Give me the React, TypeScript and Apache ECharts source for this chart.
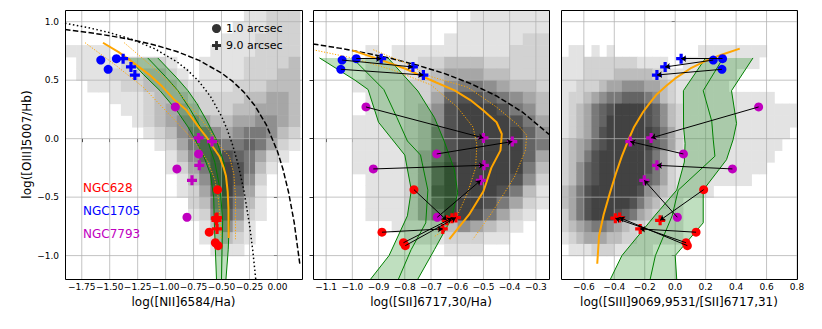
import React, { useEffect, useRef } from 'react';
import * as echarts from 'echarts';

const FONT = 'DejaVu Sans';
const MINUS = '\u2212';

// ---------- axes ----------
const p1XRange = [-1.9, 0.22];
const p2XRange = [-1.15, -0.25];
const p3XRange = [-0.75, 0.8];
const yRange = [-1.2, 1.1];
const p1XTicks = [-1.75, -1.5, -1.25, -1.0, -0.75, -0.5, -0.25, 0.0];
const p2XTicks = [-1.1, -1.0, -0.9, -0.8, -0.7, -0.6, -0.5, -0.4, -0.3];
const p3XTicks = [-0.6, -0.4, -0.2, 0.0, 0.2, 0.4, 0.6, 0.8];
const yTicks = [-1.0, -0.5, 0.0, 0.5, 1.0];
const p1XName = 'log([NII]6584/Ha)';
const p2XName = 'log([SII]6717,30/Ha)';
const p3XName = 'log([SIII]9069,9531/[SII]6717,31)';
const yName = 'log([OIII]5007/Hb)';

// ---------- 2D histograms (grey level per bin, '.' = empty; top row first) ----------
const hist1Bins = { x0: -1.9, dx: 0.1, y0: 1.1, dy: 0.1 };
const hist1Rows = [
  '................11222',
  '...............111222',
  '..............1112222',
  '1111.........11112222',
  '.111122221..111122223',
  '.1112223321.111122233',
  '..1112233321111222333',
  '....11123332222233443',
  '.....1123443222334443',
  '......123455433445543',
  '.......12356654566532',
  '........1246776676421',
  '.........13578876421.',
  '.........1246898631..',
  '..........13589852...',
  '..........12479741...',
  '...........2368631...',
  '...........1257521...',
  '............13531....',
  '............12321....',
  '.............111.....',
  '.....................',
  '.....................',
];
const hist2Bins = { x0: -1.15, dx: 0.05, y0: 1.1, dy: 0.1 };
const hist2Rows = [
  '............111111',
  '...........1111111',
  '..........11111122',
  '....1.111111111222',
  '....11112233322222',
  '....11112344433222',
  '...111122356654332',
  '....11122478876543',
  '....11123589998653',
  '...111123589999864',
  '...111123689999975',
  '...111123689999976',
  '...111124689999974',
  '...111124799999963',
  '....11124799999852',
  '....11124899998631',
  '....11124799986421',
  '....1112469986421.',
  '......1112354321..',
  '.......11122211...',
  '..........111.....',
  '..................',
  '..................',
];
const hist3Bins = { x0: -0.75, dx: 0.05, y0: 1.1, dy: 0.1 };
const hist3Rows = [
  '...............................',
  '...............................',
  '...............................',
  '.11.1.1...........111111111....',
  '11122222221111..1111111111.....',
  '11122223333322111111111........',
  '1122234455544321111111.........',
  '1223456677765321111111111111...',
  '1234678999987532111111111111111',
  '1234679999987532111111111111111',
  '123468999999864211111111111111.',
  '23457899999976421111111111111..',
  '2346899999986421111111111111...',
  '235789999998642111111111111....',
  '2357899999976421111111111......',
  '34689999998543211111...........',
  '3468999998643211...............',
  '2468999876432111...............',
  '2345665432211111...............',
  '1234443322111111...............',
  '.11122211111....................',
  '...............................',
  '...............................',
];

// ---------- curves ----------
const p1Kewley = [[-1.9, 0.933], [-1.7, 0.909], [-1.5, 0.88], [-1.3, 0.845], [-1.1, 0.801], [-0.9, 0.745], [-0.7, 0.669], [-0.5, 0.561], [-0.4, 0.489], [-0.3, 0.398], [-0.2, 0.28], [-0.1, 0.12], [0.0, -0.108], [0.05, -0.262], [0.1, -0.459], [0.15, -0.716], [0.2, -1.069]];
const p1Kauffmann = [[-1.9, 0.987], [-1.7, 0.951], [-1.5, 0.906], [-1.3, 0.848], [-1.1, 0.77], [-0.9, 0.658], [-0.8, 0.582], [-0.7, 0.487], [-0.6, 0.362], [-0.5, 0.191], [-0.45, 0.08], [-0.4, -0.056], [-0.35, -0.225], [-0.3, -0.443], [-0.25, -0.733], [-0.22, -0.959], [-0.194, -1.2]];
const p2Kewley = [[-1.15, 0.81], [-1.05, 0.774], [-0.95, 0.733], [-0.85, 0.685], [-0.75, 0.627], [-0.65, 0.558], [-0.55, 0.472], [-0.45, 0.365], [-0.35, 0.225], [-0.25, 0.037]];

const p1Orange = [[-1.56, 0.82], [-1.42, 0.74], [-1.29, 0.65], [-1.15, 0.55], [-1.03, 0.445], [-0.92, 0.33], [-0.82, 0.25], [-0.72, 0.12], [-0.64, 0.02], [-0.57, -0.08], [-0.52, -0.15], [-0.48, -0.25], [-0.46, -0.32], [-0.445, -0.45], [-0.438, -0.6], [-0.436, -0.85]];
const p1OrangeLo = [[-1.72, 0.82], [-1.45, 0.63], [-1.2, 0.44], [-1.0, 0.24], [-0.84, 0.08], [-0.72, -0.05], [-0.62, -0.2], [-0.56, -0.35], [-0.53, -0.5], [-0.51, -0.7], [-0.505, -0.86]];
const p1OrangeHi = [[-1.37, 0.82], [-1.15, 0.64], [-0.95, 0.47], [-0.8, 0.3], [-0.67, 0.15], [-0.57, 0.02], [-0.5, -0.08], [-0.43, -0.15], [-0.39, -0.3], [-0.375, -0.5], [-0.375, -0.7], [-0.375, -0.86]];
const p2Orange = [[-1.0, 0.755], [-0.9, 0.68], [-0.8, 0.6], [-0.74, 0.54], [-0.68, 0.48], [-0.61, 0.413], [-0.55, 0.33], [-0.5, 0.24], [-0.45, 0.14], [-0.43, 0.04], [-0.435, -0.1], [-0.47, -0.25], [-0.5, -0.45], [-0.555, -0.65], [-0.63, -0.86]];
const p2OrangeLo = [[-1.15, 0.76], [-1.0, 0.69], [-0.85, 0.59], [-0.7, 0.46], [-0.6, 0.27], [-0.54, 0.1], [-0.525, -0.05], [-0.53, -0.25], [-0.56, -0.46], [-0.6, -0.66], [-0.66, -0.8], [-0.69, -0.84]];
const p2OrangeHi = [[-0.92, 0.76], [-0.8, 0.65], [-0.7, 0.53], [-0.56, 0.44], [-0.45, 0.27], [-0.37, 0.12], [-0.335, 0.03], [-0.34, -0.1], [-0.38, -0.32], [-0.43, -0.5], [-0.47, -0.64], [-0.54, -0.86]];
const p3Orange = [[0.424, 0.77], [0.3, 0.715], [0.2, 0.665], [0.1, 0.6], [0.0, 0.515], [-0.06, 0.45], [-0.12, 0.38], [-0.17, 0.3], [-0.21, 0.23], [-0.27, 0.1], [-0.31, -0.02], [-0.35, -0.15], [-0.39, -0.3], [-0.43, -0.47], [-0.47, -0.65], [-0.5, -0.83], [-0.512, -1.07]];

// model bands: left edge, middle, right edge
const p1BandLeft = [[-1.335, 0.69], [-1.2, 0.55], [-1.05, 0.41], [-0.9, 0.24], [-0.8, 0.1], [-0.74, 0.0], [-0.66, -0.15], [-0.6, -0.3], [-0.57, -0.5], [-0.565, -0.7], [-0.555, -0.95], [-0.545, -1.2]];
const p1BandMid = [[-1.16, 0.69], [-1.0, 0.53], [-0.89, 0.41], [-0.78, 0.25], [-0.69, 0.1], [-0.63, 0.0], [-0.56, -0.2], [-0.51, -0.45], [-0.49, -0.7], [-0.495, -0.95], [-0.5, -1.2]];
const p1BandRight = [[-1.07, 0.69], [-0.9, 0.52], [-0.8, 0.41], [-0.72, 0.3], [-0.63, 0.15], [-0.55, 0.0], [-0.48, -0.2], [-0.44, -0.45], [-0.43, -0.7], [-0.44, -0.95], [-0.46, -1.2]];
const p2BandLeft = [[-1.125, 0.69], [-0.99, 0.5], [-0.94, 0.42], [-0.9, 0.14], [-0.85, 0.0], [-0.8, -0.14], [-0.775, -0.44], [-0.79, -0.66], [-0.86, -1.0], [-0.93, -1.2]];
const p2BandMid = [[-1.0, 0.69], [-0.88, 0.42], [-0.83, 0.18], [-0.79, -0.02], [-0.74, -0.14], [-0.712, -0.44], [-0.72, -0.72], [-0.776, -0.95], [-0.824, -1.2]];
const p2BandRight = [[-0.864, 0.69], [-0.75, 0.407], [-0.687, 0.18], [-0.65, -0.02], [-0.611, -0.265], [-0.598, -0.464], [-0.624, -0.692], [-0.687, -0.949], [-0.75, -1.2]];
const p3BandLeft = [[0.2, 0.69], [0.054, 0.41], [0.055, 0.1], [0.065, -0.04], [0.06, -0.2], [0.01, -0.44], [-0.135, -0.66], [-0.35, -1.0], [-0.425, -1.2]];
const p3BandMid = [[0.315, 0.69], [0.184, 0.41], [0.24, 0.15], [0.25, -0.01], [0.261, -0.15], [0.02, -0.44], [-0.02, -0.66], [-0.13, -1.0], [-0.164, -1.2]];
const p3BandRight = [[0.511, 0.69], [0.37, 0.41], [0.403, 0.13], [0.38, -0.01], [0.337, -0.18], [0.184, -0.44], [0.184, -0.72], [0.0, -1.0], [0.01, -1.2]];

// ---------- observed points: 1.0 arcsec (circles) and 9.0 arcsec (pluses) ----------
const ngc628_y1 = [-0.436, -0.8, -0.89, -0.915];
const ngc628_y9 = [-0.698, -0.772, -0.68, -0.675];
const ngc628_nii1 = [-0.535, -0.61, -0.555, -0.53];
const ngc628_nii9 = [-0.545, -0.54, -0.55, -0.54];
const ngc628_sii1 = [-0.765, -0.887, -0.805, -0.798];
const ngc628_sii9 = [-0.64, -0.655, -0.62, -0.605];
const ngc628_siii1 = [0.187, 0.137, 0.071, 0.08];
const ngc628_siii9 = [-0.099, -0.23, -0.393, -0.365];

const ngc1705_y1 = [0.684, 0.672, 0.593];
const ngc1705_y9 = [0.684, 0.613, 0.544];
const ngc1705_nii1 = [-1.44, -1.58, -1.514];
const ngc1705_nii9 = [-1.38, -1.31, -1.275];
const ngc1705_sii1 = [-0.985, -1.039, -1.044];
const ngc1705_sii9 = [-0.89, -0.769, -0.729];
const ngc1705_siii1 = [0.311, 0.25, 0.307];
const ngc1705_siii9 = [0.039, -0.066, -0.12];

const ngc7793_y1 = [0.271, -0.131, -0.259, -0.672];
const ngc7793_y9 = [0.006, -0.025, -0.228, -0.356];
const ngc7793_nii1 = [-0.913, -0.705, -0.899, -0.809];
const ngc7793_nii9 = [-0.705, -0.585, -0.699, -0.764];
const ngc7793_sii1 = [-0.948, -0.678, -0.92, -0.676];
const ngc7793_sii9 = [-0.5, -0.39, -0.498, -0.51];
const ngc7793_siii1 = [0.548, 0.054, 0.376, 0.014];
const ngc7793_siii9 = [-0.158, -0.295, -0.12, -0.203];

const galaxyNames = ['NGC628', 'NGC1705', 'NGC7793'];
const legendNames = ['1.0 arcsec', '9.0 arcsec'];

// ---------- styling ----------
const RED = '#ff0000';
const BLUE = '#0000ff';
const MAG = '#bf00bf';
const ORANGE = '#ffa500';
const GREEN = '#008000';
const GRAYS = ['', '#e3e3e3', '#d2d2d2', '#bdbdbd', '#a6a6a6', '#8f8f8f', '#797979', '#646464', '#525252', '#424242'];
const PLUS = 'path://M3.4,0H6.6V3.4H10V6.6H6.6V10H3.4V6.6H0V3.4H3.4Z';
const GRIDS = [
  { left: 65, top: 10, width: 237, height: 269 },
  { left: 313, top: 10, width: 236, height: 269 },
  { left: 561, top: 10, width: 236, height: 269 },
];

const fmt = (v: number, dec: number) => (v < -1e-9 ? MINUS : '') + Math.abs(v).toFixed(dec);

function histData(rows: string[], b: any) {
  const out: number[][] = [];
  rows.forEach((row, j) => {
    for (let i = 0; i < row.length; i++) {
      const c = row[i];
      if (c !== '.') out.push([b.x0 + (i + 0.5) * b.dx, b.y0 - (j + 0.5) * b.dy, Number(c)]);
    }
  });
  return out;
}

function histSeries(idx: number, rows: string[], b: any) {
  return {
    type: 'custom', xAxisIndex: idx, yAxisIndex: idx, z: 1, silent: true,
    data: histData(rows, b),
    encode: { x: 0, y: 1 },
    renderItem: (params: any, api: any) => {
      const x = api.value(0), y = api.value(1), lv = api.value(2);
      const p1 = api.coord([x - b.dx / 2, y + b.dy / 2]);
      const p2 = api.coord([x + b.dx / 2, y - b.dy / 2]);
      const cs = params.coordSys;
      const rect = echarts.graphic.clipRectByRect(
        { x: p1[0], y: p1[1], width: p2[0] - p1[0] + 0.6, height: p2[1] - p1[1] + 0.6 },
        { x: cs.x, y: cs.y, width: cs.width, height: cs.height }
      );
      if (!rect) return null;
      return { type: 'rect', shape: rect, style: { fill: GRAYS[lv] } };
    },
  };
}

function gridSeries(idx: number, xTicks: number[], xMin: number) {
  const data = xTicks.map((v) => [v, 0, 0]).concat(yTicks.map((v) => [xMin, v, 1]));
  return {
    type: 'custom', xAxisIndex: idx, yAxisIndex: idx, z: 2, silent: true,
    data, encode: { x: 0, y: 1 },
    renderItem: (params: any, api: any) => {
      const cs = params.coordSys;
      const p = api.coord([api.value(0), api.value(1)]);
      const style = { stroke: '#b0b0b0', opacity: 0.75, lineWidth: 1 };
      if (api.value(2) === 0) {
        return { type: 'line', shape: { x1: p[0], y1: cs.y, x2: p[0], y2: cs.y + cs.height }, style };
      }
      return { type: 'line', shape: { x1: cs.x, y1: p[1], x2: cs.x + cs.width, y2: p[1] }, style };
    },
  };
}

function bandSeries(idx: number, left: number[][], right: number[][]) {
  return {
    type: 'custom', xAxisIndex: idx, yAxisIndex: idx, z: 3, silent: true,
    data: [left[0]], encode: { x: 0, y: 1 },
    renderItem: (_params: any, api: any) => {
      const pts = left.concat(right.slice().reverse()).map((p) => api.coord(p));
      return { type: 'polygon', shape: { points: pts }, style: { fill: 'rgba(0,128,0,0.25)' } };
    },
  };
}

function lineSeries(idx: number, data: number[][], color: string, width: number, type: any, z = 4) {
  return {
    type: 'line', xAxisIndex: idx, yAxisIndex: idx, data, z, silent: true,
    showSymbol: false, symbol: 'none', clip: true,
    lineStyle: { color, width, type },
  };
}

function scatterSeries(idx: number, xs: number[], ys: number[], color: string, symbol: string, size: number) {
  return {
    type: 'scatter', xAxisIndex: idx, yAxisIndex: idx, z: 5, silent: true,
    data: xs.map((x, k) => [x, ys[k]]), symbol, symbolSize: size,
    itemStyle: { color, opacity: 1 },
  };
}

function arrowSeries(idx: number, x1: number[], y1: number[], x9: number[], y9: number[]) {
  return {
    type: 'lines', coordinateSystem: 'cartesian2d', xAxisIndex: idx, yAxisIndex: idx, z: 6, silent: true,
    symbol: ['none', 'arrow'], symbolSize: 5,
    lineStyle: { color: '#000', width: 1, opacity: 1 },
    data: x1.map((x, k) => ({ coords: [[x, y1[k]], [x9[k], y9[k]]] })),
  };
}

function xAxisFor(i: number, range: number[], ticks: number[], dec: number, name: string) {
  return {
    type: 'value', gridIndex: i, min: range[0], max: range[1],
    name, nameLocation: 'middle', nameGap: 13,
    nameTextStyle: { fontSize: 12, fontFamily: FONT, color: '#000' },
    axisLine: { show: false },
    axisTick: { show: true, customValues: ticks, length: 3.5, lineStyle: { color: '#000', width: 0.8 } },
    axisLabel: { show: true, customValues: ticks, formatter: (v: number) => fmt(v, dec), fontSize: 9, fontFamily: FONT, color: '#000', margin: 3 },
    splitLine: { show: false },
  };
}

function yAxisFor(i: number, labels: boolean) {
  return {
    type: 'value', gridIndex: i, min: yRange[0], max: yRange[1],
    name: labels ? yName : '', nameLocation: 'middle', nameGap: 28, nameRotate: 90,
    nameTextStyle: { fontSize: 12, fontFamily: FONT, color: '#000' },
    axisLine: { show: false },
    axisTick: { show: true, customValues: yTicks, length: 3.5, lineStyle: { color: '#000', width: 0.8 } },
    axisLabel: { show: labels, customValues: yTicks, formatter: (v: number) => fmt(v, 1), fontSize: 9, fontFamily: FONT, color: '#000', margin: 6 },
    splitLine: { show: false },
  };
}

export default function App() {
  const ref = useRef<HTMLDivElement>(null);
  useEffect(() => {
    if (!ref.current) return;
    const chart = echarts.init(ref.current, undefined, { renderer: 'svg' });
    const series: any[] = [
      histSeries(0, hist1Rows, hist1Bins),
      histSeries(1, hist2Rows, hist2Bins),
      histSeries(2, hist3Rows, hist3Bins),
      gridSeries(0, p1XTicks, p1XRange[0]),
      gridSeries(1, p2XTicks, p2XRange[0]),
      gridSeries(2, p3XTicks, p3XRange[0]),
      bandSeries(0, p1BandLeft, p1BandRight),
      bandSeries(1, p2BandLeft, p2BandRight),
      bandSeries(2, p3BandLeft, p3BandRight),
      lineSeries(0, p1BandLeft, GREEN, 1, 'solid'),
      lineSeries(0, p1BandMid, GREEN, 1, 'solid'),
      lineSeries(0, p1BandRight, GREEN, 1, 'solid'),
      lineSeries(1, p2BandLeft, GREEN, 1, 'solid'),
      lineSeries(1, p2BandMid, GREEN, 1, 'solid'),
      lineSeries(1, p2BandRight, GREEN, 1, 'solid'),
      lineSeries(2, p3BandLeft, GREEN, 1, 'solid'),
      lineSeries(2, p3BandMid, GREEN, 1, 'solid'),
      lineSeries(2, p3BandRight, GREEN, 1, 'solid'),
      lineSeries(0, p1Kewley, '#000', 1.5, [5.5, 2.4]),
      lineSeries(0, p1Kauffmann, '#000', 1.5, [1.5, 2.5]),
      lineSeries(1, p2Kewley, '#000', 1.5, [5.5, 2.4]),
      lineSeries(0, p1Orange, ORANGE, 2, 'solid'),
      lineSeries(0, p1OrangeLo, ORANGE, 1, [1.2, 1.6]),
      lineSeries(0, p1OrangeHi, ORANGE, 1, [1.2, 1.6]),
      lineSeries(1, p2Orange, ORANGE, 2, 'solid'),
      lineSeries(1, p2OrangeLo, ORANGE, 1, [1.2, 1.6]),
      lineSeries(1, p2OrangeHi, ORANGE, 1, [1.2, 1.6]),
      lineSeries(2, p3Orange, ORANGE, 2, 'solid'),
      // panel 1
      scatterSeries(0, ngc628_nii1, ngc628_y1, RED, 'circle', 9),
      scatterSeries(0, ngc628_nii9, ngc628_y9, RED, PLUS, 10),
      scatterSeries(0, ngc1705_nii1, ngc1705_y1, BLUE, 'circle', 9),
      scatterSeries(0, ngc1705_nii9, ngc1705_y9, BLUE, PLUS, 10),
      scatterSeries(0, ngc7793_nii1, ngc7793_y1, MAG, 'circle', 9),
      scatterSeries(0, ngc7793_nii9, ngc7793_y9, MAG, PLUS, 10),
      // panel 2
      scatterSeries(1, ngc628_sii1, ngc628_y1, RED, 'circle', 9),
      scatterSeries(1, ngc628_sii9, ngc628_y9, RED, PLUS, 10),
      scatterSeries(1, ngc1705_sii1, ngc1705_y1, BLUE, 'circle', 9),
      scatterSeries(1, ngc1705_sii9, ngc1705_y9, BLUE, PLUS, 10),
      scatterSeries(1, ngc7793_sii1, ngc7793_y1, MAG, 'circle', 9),
      scatterSeries(1, ngc7793_sii9, ngc7793_y9, MAG, PLUS, 10),
      arrowSeries(1, ngc628_sii1, ngc628_y1, ngc628_sii9, ngc628_y9),
      arrowSeries(1, ngc1705_sii1, ngc1705_y1, ngc1705_sii9, ngc1705_y9),
      arrowSeries(1, ngc7793_sii1, ngc7793_y1, ngc7793_sii9, ngc7793_y9),
      // panel 3
      scatterSeries(2, ngc628_siii1, ngc628_y1, RED, 'circle', 9),
      scatterSeries(2, ngc628_siii9, ngc628_y9, RED, PLUS, 10),
      scatterSeries(2, ngc1705_siii1, ngc1705_y1, BLUE, 'circle', 9),
      scatterSeries(2, ngc1705_siii9, ngc1705_y9, BLUE, PLUS, 10),
      scatterSeries(2, ngc7793_siii1, ngc7793_y1, MAG, 'circle', 9),
      scatterSeries(2, ngc7793_siii9, ngc7793_y9, MAG, PLUS, 10),
      arrowSeries(2, ngc628_siii1, ngc628_y1, ngc628_siii9, ngc628_y9),
      arrowSeries(2, ngc1705_siii1, ngc1705_y1, ngc1705_siii9, ngc1705_y9),
      arrowSeries(2, ngc7793_siii1, ngc7793_y1, ngc7793_siii9, ngc7793_y9),
      // legend entries
      { type: 'scatter', name: legendNames[0], xAxisIndex: 0, yAxisIndex: 0, data: [], symbol: 'circle', itemStyle: { color: '#000' } },
      { type: 'scatter', name: legendNames[1], xAxisIndex: 0, yAxisIndex: 0, data: [], symbol: PLUS, itemStyle: { color: '#000' } },
    ];
    const galaxyColors = [RED, BLUE, MAG];
    const galaxyTextY = [188, 211, 234];
    chart.setOption({
      animation: false,
      backgroundColor: '#ffffff',
      grid: GRIDS.map((g) => ({ ...g, containLabel: false })),
      xAxis: [
        xAxisFor(0, p1XRange, p1XTicks, 2, p1XName),
        xAxisFor(1, p2XRange, p2XTicks, 1, p2XName),
        xAxisFor(2, p3XRange, p3XTicks, 1, p3XName),
      ],
      yAxis: [yAxisFor(0, true), yAxisFor(1, false), yAxisFor(2, false)],
      legend: {
        show: true, orient: 'vertical', left: 212, top: 23, padding: 0,
        itemWidth: 9, itemHeight: 9, itemGap: 6, selectedMode: false,
        textStyle: { fontSize: 11, fontFamily: FONT, color: '#000' },
        data: [{ name: legendNames[0], icon: 'circle' }, { name: legendNames[1], icon: PLUS }],
      },
      graphic: [
        ...GRIDS.map((g) => ({
          type: 'rect', silent: true, z: 100,
          shape: { x: g.left + 0.5, y: g.top + 0.5, width: g.width, height: g.height },
          style: { fill: 'none', stroke: '#000', lineWidth: 1 },
        })),
        ...galaxyNames.map((n, k) => ({
          type: 'text', silent: true, z: 100, x: 83, y: galaxyTextY[k],
          style: { text: n, fill: galaxyColors[k], fontSize: 12, fontFamily: FONT, verticalAlign: 'middle', align: 'left' },
        })),
      ],
      series,
    });
    return () => chart.dispose();
  }, []);
  return <div ref={ref} style={{ position: 'fixed', left: 0, top: 0, width: 822, height: 329, background: '#fff' }} />;
}
